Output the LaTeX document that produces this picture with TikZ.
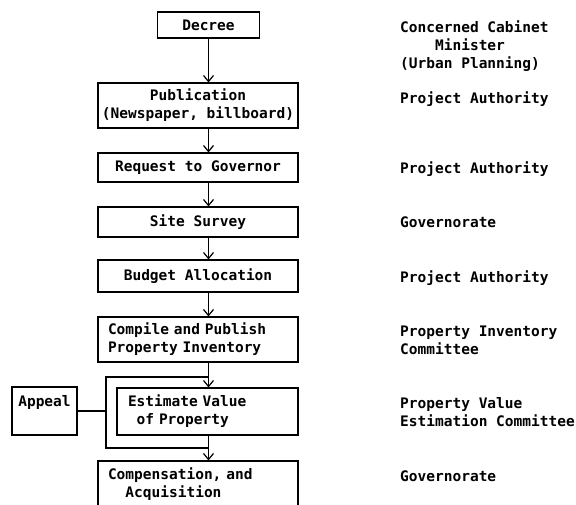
\documentclass[tikz,border=0pt]{standalone}
\usepackage{fontspec}
\setmainfont{DejaVu Sans Mono}
\usetikzlibrary{arrows.meta}
\begin{document}
\begin{tikzpicture}[x=1pt,y=-1pt,
  every node/.style={font=\fontsize{14.5}{18}\selectfont\bfseries},
  stepbox/.style={draw, line width=1.2pt, rectangle, inner sep=0pt, align=center},
  leftbox/.style={draw, line width=1.2pt, rectangle, inner ysep=0pt, align=left},
  arr/.style={line width=1.2pt, -{Straight Barb[length=6pt,width=10pt,line width=1.2pt]}},
  link/.style={line width=1.2pt},
  agent/.style={anchor=north west, inner sep=0pt, align=left}
]
\useasboundingbox (0,0) rectangle (576,504);
\clip (0,0) rectangle (576,504);

% process steps
\node[stepbox, minimum width=102pt, minimum height=26pt] (decree) at (208.5,25) {Decree};
\node[stepbox, minimum width=200pt, minimum height=45pt] (pub) at (198,105.5) {Publication\\(Newspaper, billboard)};
\node[stepbox, minimum width=200pt, minimum height=29pt] (req) at (198,167.5) {Request to Governor};
\node[stepbox, minimum width=200pt, minimum height=30pt] (site) at (198,222) {Site Survey};
\node[stepbox, minimum width=200pt, minimum height=32pt] (budget) at (198,276) {Budget Allocation};
\node[leftbox, text width=180pt, inner xsep=10pt, minimum height=45pt] (compile) at (198,339.5) {Compile and Publish\\Property Inventory};
\node[leftbox, text width=159pt, inner xsep=11pt, minimum height=47pt] (estimate) at (207.5,411.5) {Estimate Value\\\phantom{x}of Property};
\node[stepbox, minimum width=65pt, minimum height=48pt] (appeal) at (44.5,411) {};
\node[inner sep=0pt] (appealtext) at (44.5,402) {Appeal};
\node[leftbox, text width=180pt, inner xsep=10pt, minimum height=46pt] (comp) at (198,484) {Compensation, and\\\phantom{xx}Acquisition};

% flow arrows
\draw[arr] (decree.south) -- (decree.south |- pub.north);
\draw[arr] (pub.south -| decree.south) -- (req.north -| decree.south);
\draw[arr] (req.south -| decree.south) -- (site.north -| decree.south);
\draw[arr] (site.south -| decree.south) -- (budget.north -| decree.south);
\draw[arr] (budget.south -| decree.south) -- (compile.north -| decree.south);
\draw[arr] (compile.south -| decree.south) -- (estimate.north -| decree.south);
\draw[arr] (estimate.south -| decree.south) -- (comp.north -| decree.south);

% appeal bypass loop
\coordinate (looptop) at (106,377);
\coordinate (loopbot) at (106,448);
\draw[link] (appeal.east) -- (appeal.east -| looptop);
\draw[link] (looptop -| decree.south) -- (looptop) -- (loopbot) -- (loopbot -| decree.south);

% responsible bodies
\node[agent] (who1) at (400,20.5) {Concerned Cabinet\\\phantom{xxxx}Minister\\(Urban Planning)};
\node[agent] (who2) at (400,91.5) {Project Authority};
\node[agent] (who3) at (400,161.5) {Project Authority};
\node[agent] (who4) at (400,216.5) {Governorate};
\node[agent] (who5) at (400,270.5) {Project Authority};
\node[agent] (who6) at (400,325.5) {Property Inventory\\Committee};
\node[agent] (who7) at (400,397.5) {Property Value\\Estimation Committee};
\node[agent] (who8) at (400,470.5) {Governorate};
\end{tikzpicture}
\end{document}
